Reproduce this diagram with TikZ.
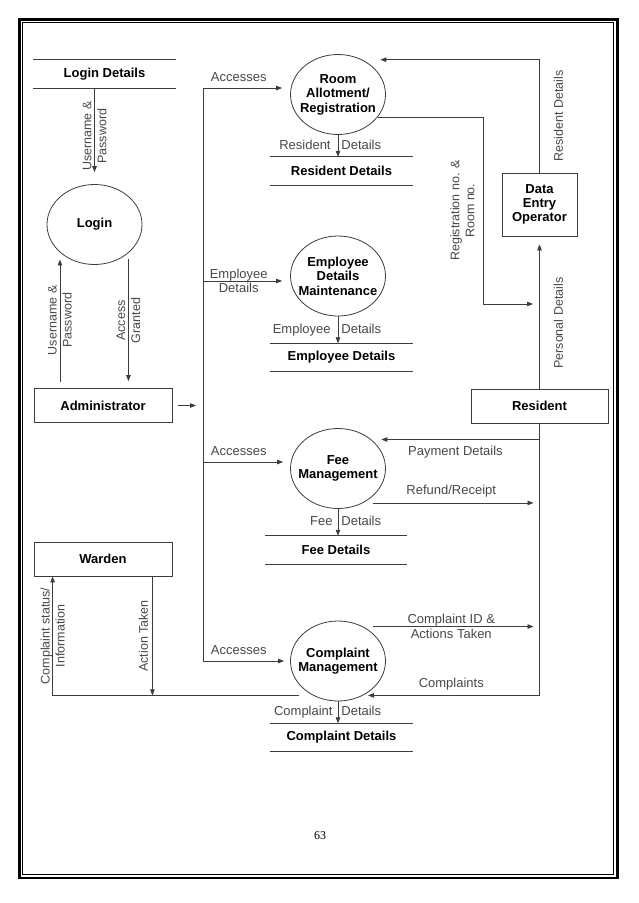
\documentclass[tikz,border=0pt]{standalone}
\usepackage{fontspec}
\setmainfont{Liberation Sans}
\newfontfamily\numfont{Liberation Serif}
\usetikzlibrary{shapes.geometric,arrows.meta}
\definecolor{linea}{HTML}{3C3C3C}
\definecolor{etq}{HTML}{474747}

\tikzset{
  proceso/.style={draw=linea, line width=0.8pt, ellipse, minimum width=95pt, minimum height=80pt,
    inner xsep=-10pt, inner ysep=0pt, align=center, font=\fontsize{13}{14.5}\selectfont\bfseries},
  entidad/.style={draw=linea, line width=0.8pt, minimum width=138pt, minimum height=34pt,
    align=center, font=\fontsize{13}{14.2}\selectfont\bfseries},
  almacen/.style={minimum width=142pt, minimum height=28pt, inner sep=0pt,
    font=\fontsize{13}{14.5}\selectfont\bfseries},
  flujo/.style={draw=linea, line width=0.8pt, -{Triangle[length=6pt,width=4.5pt]}},
  etiqueta/.style={text=etq, font=\fontsize{13}{14.5}\selectfont, align=center, inner sep=2pt},
  lado/.style={etiqueta, text height=9.4pt, text depth=2.7pt},
  vert/.style={etiqueta, rotate=90, font=\fontsize{12.5}{15}\selectfont},
}

\begin{document}
\begin{tikzpicture}[x=1pt, y=-1pt]
  % Marco de la página
  \useasboundingbox (0,0) rectangle (638,903);
  \draw[line width=2.8pt] (19.7,19.7) rectangle (617.6,878);
  \draw[line width=1.1pt] (22.9,22.9) rectangle (613.6,874.2);

  % Almacenes de datos
  \node[almacen] (ld) at (104.5,74) {Login Details};
  \node[almacen] (rd) at (341.5,171) {Resident Details};
  \node[almacen] (ed) at (341.5,357.5) {Employee Details};
  \node[almacen] (fd) at (336,550) {Fee Details};
  \node[almacen] (cd) at (341.5,737.5) {Complaint Details};
  \draw[linea, line width=0.8pt] (ld.north west) -- (ld.north east) (ld.south west) -- (ld.south east);
  \draw[linea, line width=0.8pt] (rd.north west) -- (rd.north east) (rd.south west) -- (rd.south east);
  \draw[linea, line width=0.8pt] (ed.north west) -- (ed.north east) (ed.south west) -- (ed.south east);
  \draw[linea, line width=0.8pt] (fd.north west) -- (fd.north east) (fd.south west) -- (fd.south east);
  \draw[linea, line width=0.8pt] (cd.north west) -- (cd.north east) (cd.south west) -- (cd.south east);

  % Procesos
  \node[proceso] (lg) at (94.5,224.5) {Login};
  \node[proceso] (ra) at (338,94.5) {Room\\Allotment/\\Registration};
  \node[proceso] (em) at (338,276) {Employee\\Details\\Maintenance};
  \node[proceso] (fm) at (338,468.5) {Fee\\Management};
  \node[proceso] (cm) at (338,661) {Complaint\\Management};

  % Entidades externas
  \node[entidad] (admin) at (103,405.5) {Administrator};
  \node[entidad] (warden) at (103,559) {Warden};
  \node[entidad, minimum width=137pt] (res) at (539.5,406) {Resident};
  \node[entidad, minimum width=75pt, minimum height=63pt] (deo) at (539.5,204.5) {Data\\Entry\\Operator};

  % Bus de accesos del administrador
  \coordinate (b1) at (203,88);
  \coordinate (b2) at (203,281);
  \coordinate (b3) at (203,462);
  \coordinate (b4) at (203,661);
  \coordinate (reg) at (539,304);
  \draw[linea, line width=0.8pt] (b1) -- (b4);

  % Flujos del login
  \draw[flujo, shorten >=12pt] (lg.north |- ld.south) -- (lg.north)
    node[vert, midway] {Username \&\\Password};
  \draw[flujo, shorten <=6pt, shorten >=7pt] (lg.219 |- admin.north) -- (lg.219)
    node[vert, midway] {Username \&\\Password};
  \draw[flujo, shorten <=6pt, shorten >=7pt] (lg.320) -- (lg.320 |- admin.north)
    node[vert, midway] {Access\\Granted};
  \draw[flujo, shorten <=6pt, shorten >=7pt] (admin.east) -- (admin.east -| b1);

  % Accesos a los procesos
  \draw[flujo, shorten >=8pt] (b1) -- (b1 -| ra.west) node[etiqueta, pos=0.41, above=4pt] {Accesses};
  \draw[flujo, shorten >=8pt] (b2) -- (b2 -| em.west) node[etiqueta, pos=0.41] {Employee\\Details};
  \draw[flujo, shorten >=7pt] (b3) -- (b3 -| fm.west) node[etiqueta, pos=0.41, above=4pt] {Accesses};
  \draw[flujo, shorten >=6pt] (b4) -- (b4 -| cm.west) node[etiqueta, pos=0.41, above=4pt] {Accesses};

  % Flujos a los almacenes
  \draw[flujo] (ra.south) -- (ra.south |- rd.north)
    node[lado, midway, left=5pt] {Resident} node[lado, midway, right=1pt] {Details};
  \draw[flujo] (em.south) -- (em.south |- ed.north)
    node[lado, midway, left=5pt] {Employee} node[lado, midway, right=1pt] {Details};
  \draw[flujo] (fm.south) -- (fm.south |- fd.north)
    node[lado, midway, left=3pt] {Fee} node[lado, midway, right=1pt] {Details};
  \draw[flujo] (cm.south) -- (cm.south |- cd.north)
    node[lado, midway, left=3pt] {Complaint} node[lado, midway, right=1pt] {Details};

  % Operador de datos y residente
  \draw[flujo, shorten >=18pt] (deo.north) |- (ra.55)
    node[vert, pos=0.25, below, inner ysep=14pt] {Resident Details};
  \draw[flujo, shorten >=6pt] (ra.330) -| node[vert, pos=0.75, above, inner ysep=8pt] {Registration no. \&\\Room no.}
    ([xshift=-56pt]reg) -- (reg);
  \draw[flujo, shorten >=8pt] (res.north) -- (deo.south)
    node[vert, pos=0.43, below, inner ysep=14pt] {Personal Details};
  \draw[flujo, shorten >=10pt] (res.south) |- (fm.41.5)
    node[etiqueta, pos=0.75, below=4pt] {Payment Details};
  \draw[flujo, shorten <=10pt, shorten >=6pt] (fm.306) -- (fm.306 -| res.south)
    node[etiqueta, midway, above=3pt] {Refund/Receipt};
  \draw[flujo, shorten <=10pt, shorten >=6pt] (cm.54) -- (cm.54 -| res.south)
    node[etiqueta, midway] {Complaint ID \&\\Actions Taken};
  \draw[flujo, shorten >=5pt] (res.south) |- (cm.306)
    node[etiqueta, pos=0.75, above=3pt] {Complaints};

  % Flujos del warden
  \draw[flujo, shorten <=14pt] (cm.234) -| ([xshift=19pt]warden.south west)
    node[vert, pos=0.75] {Complaint status/\\Information};
  \draw[flujo] ([xshift=-20pt]warden.south east) -- ([xshift=-20pt]warden.south east |- cm.234)
    node[vert, midway, above, inner ysep=4pt] {Action Taken};

  % Número de página
  \node[font=\numfont\fontsize{12}{12}\selectfont] (pg) at (320,836) {63};
\end{tikzpicture}
\end{document}
